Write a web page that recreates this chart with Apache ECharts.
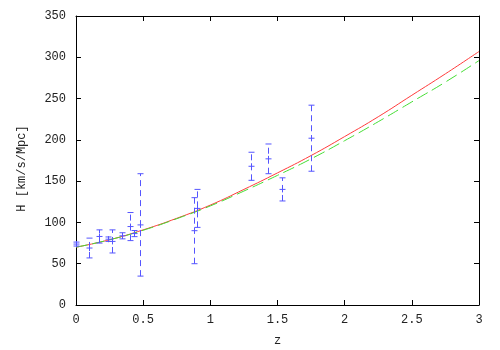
<!DOCTYPE html>
<html>
<head>
<meta charset="utf-8">
<script src="https://cdn.jsdelivr.net/npm/echarts@6/dist/echarts.min.js"></script>
<style>
html, body { margin: 0; padding: 0; background: #fff; }
#chart { width: 500px; height: 350px; }
</style>
</head>
<body>
<div id="chart"></div>
<script>
// H(z) measurements: redshift, value, 1-sigma error
var obsZ = [0, 0.1, 0.17, 0.24, 0.27, 0.34, 0.4, 0.43, 0.48, 0.88, 0.9, 1.3, 1.43, 1.53, 1.75]
var obsH = [73.8, 69, 83, 79.7, 77, 83.8, 95, 86.5, 97, 90, 117, 168, 177, 140, 202]
var obsErr = [2.4, 12, 8, 2.7, 14, 3.7, 17, 3.7, 62, 40, 23, 17, 18, 14, 40]

// model curves
var curveZ = [0, 0.25, 0.5, 0.75, 1, 1.25, 1.5, 1.75, 2, 2.25, 2.5, 2.75, 3]
var modelA = [70, 79, 91, 105, 121, 140, 160, 181, 204, 228, 254, 280, 307]
var modelB = [70, 79, 90.5, 104.5, 120, 138, 157, 177, 199, 222, 246, 270, 296]

var xTicks = [0, 0.5, 1, 1.5, 2, 2.5, 3]
var yTicks = [0, 50, 100, 150, 200, 250, 300, 350]

var font = '"Liberation Mono", "DejaVu Sans Mono", monospace'
var ink = '#222'
var errColor = '#5555ff'

var chart = echarts.init(document.getElementById('chart'))

function pairs(xs, ys) {
  return xs.map(function (x, i) { return [x, ys[i]] })
}

var errData = obsZ.map(function (z, i) {
  return [z, obsH[i], obsH[i] - obsErr[i], obsH[i] + obsErr[i]]
})

function renderErr(params, api) {
  var mid = api.coord([api.value(0), api.value(1)])
  var lo = api.coord([api.value(0), api.value(2)])
  var hi = api.coord([api.value(0), api.value(3)])
  var x = Math.round(mid[0]) + 0.5
  var cap = 3
  var st = { stroke: errColor, lineWidth: 1 }
  return {
    type: 'group',
    children: [
      { type: 'line', shape: { x1: x, y1: lo[1], x2: x, y2: hi[1] },
        style: { stroke: errColor, lineWidth: 1, lineDash: [6, 4] } },
      { type: 'line', shape: { x1: x - cap, y1: lo[1], x2: x + cap, y2: lo[1] }, style: st },
      { type: 'line', shape: { x1: x - cap, y1: hi[1], x2: x + cap, y2: hi[1] }, style: st },
      { type: 'line', shape: { x1: x - 3, y1: mid[1], x2: x + 3, y2: mid[1] }, style: st },
      { type: 'line', shape: { x1: x, y1: mid[1] - 3, x2: x, y2: mid[1] + 3 }, style: st }
    ]
  }
}

var tickStyle = { inside: true, length: 5, lineStyle: { color: '#000' } }

var option = {
  animation: false,
  grid: { left: 76, right: 21, top: 16, bottom: 45, outerBoundsMode: 'none' },
  xAxis: [{
    type: 'value',
    min: xTicks[0],
    max: xTicks[xTicks.length - 1],
    interval: 0.5,
    name: 'z',
    nameLocation: 'middle',
    nameGap: 30,
    nameTextStyle: { fontFamily: font, fontSize: 12, color: ink },
    axisLine: { onZero: false, lineStyle: { color: '#000', width: 1 } },
    axisTick: tickStyle,
    axisLabel: { fontFamily: font, fontSize: 12, color: ink, margin: 9 },
    splitLine: { show: false }
  }, {
    type: 'value',
    position: 'top',
    min: xTicks[0],
    max: xTicks[xTicks.length - 1],
    interval: 0.5,
    axisLine: { onZero: false, lineStyle: { color: '#000', width: 1 } },
    axisTick: tickStyle,
    axisLabel: { show: false },
    splitLine: { show: false }
  }],
  yAxis: [{
    type: 'value',
    min: yTicks[0],
    max: yTicks[yTicks.length - 1],
    interval: 50,
    name: 'H [km/s/Mpc]',
    nameLocation: 'middle',
    nameGap: 48,
    nameTextStyle: { fontFamily: font, fontSize: 12, color: ink, padding: [0, 16, 0, 0] },
    axisLine: { show: true, onZero: false, lineStyle: { color: '#000', width: 1 } },
    axisTick: tickStyle,
    axisLabel: { fontFamily: font, fontSize: 12, color: ink, margin: 10 },
    splitLine: { show: false }
  }, {
    type: 'value',
    position: 'right',
    min: yTicks[0],
    max: yTicks[yTicks.length - 1],
    interval: 50,
    axisLine: { show: true, onZero: false, lineStyle: { color: '#000', width: 1 } },
    axisTick: tickStyle,
    axisLabel: { show: false },
    splitLine: { show: false }
  }],
  series: [
    {
      type: 'line',
      data: pairs(curveZ, modelA),
      smooth: true,
      showSymbol: false,
      lineStyle: { color: '#ff3b3b', width: 1 },
      z: 3
    },
    {
      type: 'line',
      data: pairs(curveZ, modelB),
      smooth: true,
      showSymbol: false,
      lineStyle: { color: '#44dd33', width: 1, type: [12, 5] },
      z: 4
    },
    {
      type: 'custom',
      data: errData,
      renderItem: renderErr,
      encode: { x: 0, y: [1, 2, 3] },
      z: 5
    }
  ]
}

chart.setOption(option)
</script>
</body>
</html>
